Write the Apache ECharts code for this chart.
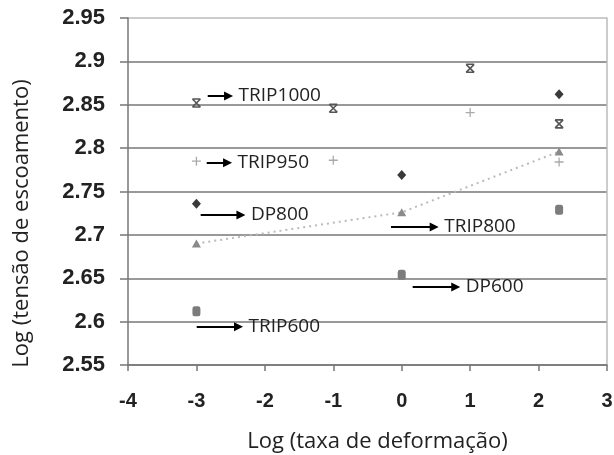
<!DOCTYPE html>
<html>
<head>
<meta charset="utf-8">
<script src="https://cdn.jsdelivr.net/npm/echarts@6/dist/echarts.min.js"></script>
<style>
  html, body { margin: 0; padding: 0; background: #fff; }
  #chart { width: 614px; height: 455px; }
</style>
</head>
<body>
<div id="chart"></div>
<script>
// pontos (x = log taxa, y = log tensao)
var dp800 = [[-3, 2.736], [0, 2.769], [2.3, 2.862]];
var trip1000 = [[-3, 2.852], [-1, 2.846], [1, 2.892], [2.3, 2.828]];
var trip950 = [[-3, 2.785], [-1, 2.786], [1, 2.841], [2.3, 2.784]];
var trip800 = [[-3, 2.690], [0, 2.726], [2.3, 2.796]];
var dp600 = [[-3, 2.612], [0, 2.654], [2.3, 2.729]];

// setas com rotulo: [inicio, fim, texto]
var arrows = [
  [[-2.835, 2.860], [-2.53, 2.860], "TRIP1000"],
  [[-2.850, 2.783], [-2.545, 2.783], "TRIP950"],
  [[-2.938, 2.723], [-2.35, 2.723], "DP800"],
  [[-2.996, 2.594], [-2.385, 2.594], "TRIP600"],
  [[-0.157, 2.709], [0.475, 2.709], "TRIP800"],
  [[0.160, 2.640], [0.79, 2.640], "DP600"]
];

var chart = echarts.init(document.getElementById("chart"));

var markData = arrows.map(function (a) {
  return [
    { coord: a[0], label: { formatter: a[2] } },
    { coord: a[1] }
  ];
});

var option = {
  animation: false,
  grid: { left: 128, right: 7, top: 18, bottom: 90, outerBoundsMode: "none" },
  xAxis: {
    type: "value",
    min: -4,
    max: 3,
    interval: 1,
    name: "Log (taxa de deformação)",
    nameLocation: "middle",
    nameGap: 66,
    nameTextStyle: { fontFamily: "Open Sans", fontSize: 22, color: "#222", padding: [0, 0, 0, 20] },
    axisLine: { onZero: false, lineStyle: { color: "#777", width: 1.5 } },
    axisTick: { show: true, length: 6, lineStyle: { color: "#777", width: 1.5 } },
    axisLabel: { margin: 26, fontFamily: "Liberation Sans", fontWeight: "bold", fontSize: 20, color: "#222" },
    splitLine: { show: false }
  },
  yAxis: [{
    type: "value",
    min: 2.55,
    max: 2.95,
    interval: 0.05,
    name: "Log (tensão de escoamento)",
    nameLocation: "middle",
    nameGap: 95,
    nameTextStyle: { fontFamily: "Open Sans", fontSize: 22, color: "#222", padding: [0, 64, 0, 0] },
    axisLine: { show: true, onZero: false, lineStyle: { color: "#777", width: 1.5 } },
    axisTick: { show: true, length: 8, lineStyle: { color: "#777", width: 1.5 } },
    axisLabel: {
      margin: 23, fontFamily: "Liberation Sans", fontWeight: "bold", fontSize: 22, color: "#222",
      formatter: function (v) { return String(parseFloat(v.toFixed(2))); }
    },
    splitLine: {
      lineStyle: {
        color: ["#777", "#777", "#777", "#777", "#777", "#777", "#777", "#777", "#bbb"],
        width: 1.5
      }
    }
  }, {
    type: "value",
    position: "right",
    min: 2.55,
    max: 2.95,
    interval: 0.05,
    axisLine: { show: true, onZero: false, lineStyle: { color: "#bbb", width: 1.5 } },
    axisTick: { show: false },
    axisLabel: { show: false },
    splitLine: { show: false }
  }],
  series: [
    {
      name: "TRIP800 tendência",
      type: "line",
      data: trip800,
      symbol: "none",
      lineStyle: { color: "#bbb", width: 2, type: [2, 4] },
      z: 1,
      markLine: {
        silent: true,
        symbol: ["none", "triangle"],
        symbolSize: 9,
        lineStyle: { color: "#000", width: 2, type: "solid" },
        label: {
          show: true,
          position: "end",
          distance: 10,
          fontFamily: "Open Sans",
          fontSize: 19,
          color: "#222"
        },
        data: markData
      }
    },
    {
      name: "DP800",
      type: "scatter",
      data: dp800,
      symbol: "diamond",
      symbolSize: [9, 10],
      itemStyle: { color: "#3a3a3a", opacity: 1 }
    },
    {
      name: "TRIP1000",
      type: "scatter",
      data: trip1000,
      symbol: "path://M0,0L10,10M10,0L0,10M0,0L10,0M0,10L10,10",
      symbolSize: [8, 8],
      itemStyle: { color: "transparent", borderColor: "#555", borderWidth: 1.6, opacity: 1 }
    },
    {
      name: "TRIP950",
      type: "scatter",
      data: trip950,
      symbol: "path://M5,0L5,10M0,5L10,5",
      symbolSize: 9,
      itemStyle: { color: "transparent", borderColor: "#aaa", borderWidth: 1.3, opacity: 1 }
    },
    {
      name: "TRIP800",
      type: "scatter",
      data: trip800,
      symbol: "triangle",
      symbolSize: [9, 8],
      itemStyle: { color: "#8a8a8a", opacity: 1 }
    },
    {
      name: "DP600",
      type: "scatter",
      data: dp600,
      symbol: "roundRect",
      symbolSize: [8, 10],
      itemStyle: { color: "#7c7c7c", opacity: 1 }
    }
  ]
};

chart.setOption(option);
</script>
</body>
</html>
